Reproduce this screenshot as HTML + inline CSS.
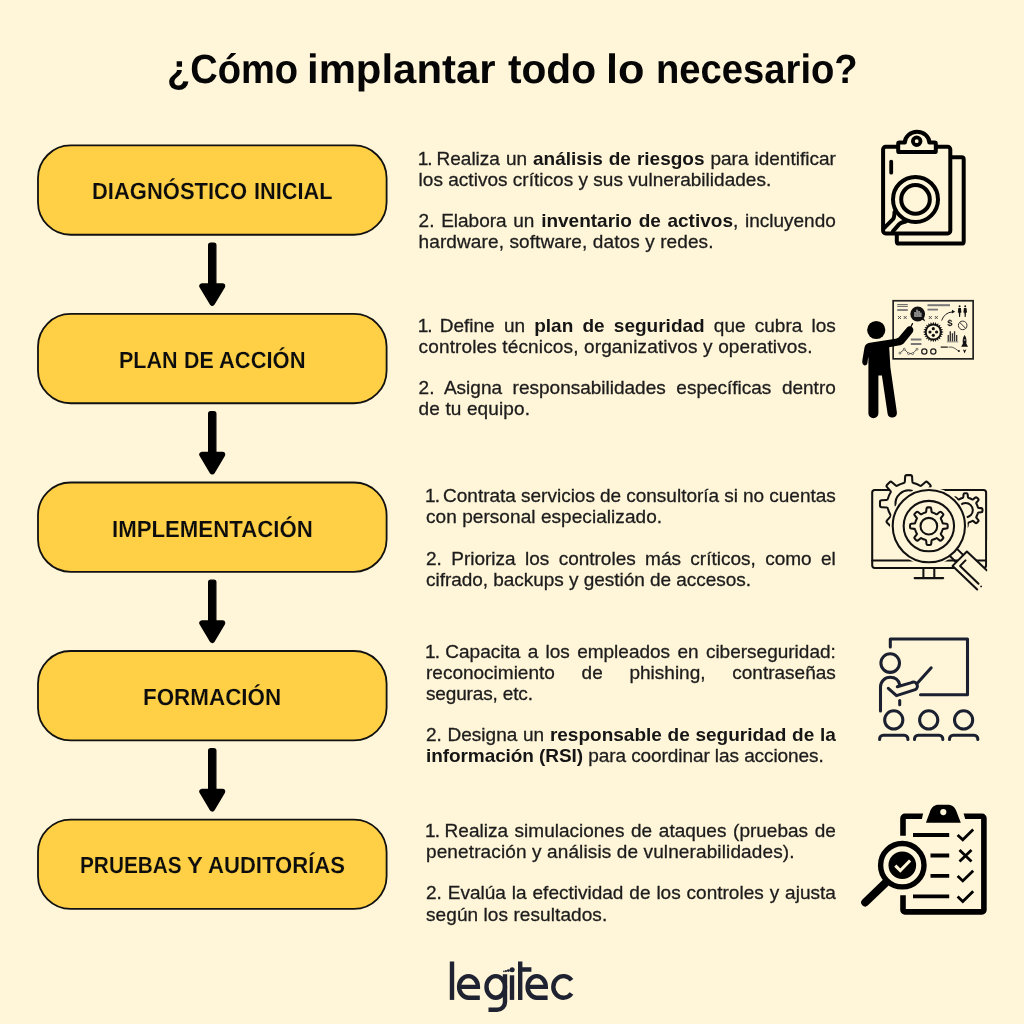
<!DOCTYPE html>
<html lang="es"><head><meta charset="utf-8"><title>¿Cómo implantar todo lo necesario?</title>
<style>
html,body{margin:0;padding:0}
body{width:1024px;height:1024px;background:#FFF5D9;position:relative;overflow:hidden;font-family:"Liberation Sans",sans-serif;color:#1c1c1c}
.tw{position:absolute;font-weight:700;font-size:41px;line-height:50px;white-space:nowrap;color:#060606;transform-origin:0 50%}
.lb{position:absolute;font-weight:700;font-size:23.4px;line-height:30px;white-space:nowrap;color:#0d0d0d;transform-origin:0 50%;-webkit-text-stroke:0.15px #FFD045}
.ln{position:absolute;white-space:nowrap;font-size:19px;line-height:20.8px;height:20.8px;color:#1c1c1c;-webkit-text-stroke:0.3px #1c1c1c}
.n1{letter-spacing:-1px;margin-left:-0.9px}.n2{letter-spacing:-1px}
.ln b{font-weight:700;color:#151515;-webkit-text-stroke:0}
.ov{position:absolute;left:0;top:0}
.pg{position:absolute;left:0;top:0;width:1024px;height:1024px;will-change:transform;transform:translateZ(0)}
</style></head>
<body>
<div class="pg">
<span class="tw" style="left:166.64px;top:44.02px;transform:scaleX(0.9284) rotate(0.03deg)">¿Cómo</span>
<span class="tw" style="left:307.09px;top:44.02px;transform:scaleX(1.0216) rotate(0.03deg)">implantar</span>
<span class="tw" style="left:508.11px;top:44.02px;transform:scaleX(0.9908) rotate(0.03deg)">todo</span>
<span class="tw" style="left:605.74px;top:44.02px;transform:scaleX(1.0547) rotate(0.03deg)">lo</span>
<span class="tw" style="left:655.50px;top:44.02px;transform:scaleX(0.9316) rotate(0.03deg)">necesario?</span>
<svg class="ov" width="1024" height="1024" viewBox="0 0 1024 1024"><g fill="#FFD045" stroke="#111" stroke-width="1.8"><rect x="38.00" y="145.45" width="348.60" height="89.30" rx="32.6"/><rect x="38.00" y="313.97" width="348.60" height="89.30" rx="32.6"/><rect x="38.00" y="482.49" width="348.60" height="89.30" rx="32.6"/><rect x="38.00" y="651.01" width="348.60" height="89.30" rx="32.6"/><rect x="38.00" y="819.53" width="348.60" height="89.30" rx="32.6"/></g></svg>
<span class="lb" style="left:91.79px;top:176.23px;transform:scaleX(0.9396) rotate(0.03deg)">DIAGNÓSTICO</span>
<span class="lb" style="left:253.81px;top:176.23px;transform:scaleX(0.9285) rotate(0.03deg)">INICIAL</span>
<span class="lb" style="left:118.82px;top:344.88px;transform:scaleX(0.9204) rotate(0.03deg)">PLAN</span>
<span class="lb" style="left:183.83px;top:344.88px;transform:scaleX(0.9156) rotate(0.03deg)">DE</span>
<span class="lb" style="left:218.96px;top:344.88px;transform:scaleX(0.9373) rotate(0.03deg)">ACCIÓN</span>
<span class="lb" style="left:111.72px;top:513.78px;transform:scaleX(0.9495) rotate(0.03deg)">IMPLEMENTACIÓN</span>
<span class="lb" style="left:143.01px;top:682.48px;transform:scaleX(0.9581) rotate(0.03deg)">FORMACIÓN</span>
<span class="lb" style="left:79.92px;top:850.38px;transform:scaleX(0.8888) rotate(0.03deg)">PRUEBAS</span>
<span class="lb" style="left:186.50px;top:850.38px;transform:scaleX(1.0111) rotate(0.03deg)">Y</span>
<span class="lb" style="left:207.66px;top:850.38px;transform:scaleX(0.9444) rotate(0.03deg)">AUDITORÍAS</span>
<div class="ln" style="left:418.6px;top:148.71px;word-spacing:0.707px"><span class="n1">1</span><span class="n2">. </span>Realiza un <b>análisis de riesgos</b> para identificar</div>
<div class="ln" style="left:418.6px;top:169.61px;letter-spacing:0.023px">los activos críticos y sus vulnerabilidades.</div>
<div class="ln" style="left:418.6px;top:211.11px;word-spacing:1.411px">2. Elabora un <b>inventario de activos</b>, incluyendo</div>
<div class="ln" style="left:418.6px;top:232.01px;letter-spacing:0.104px">hardware, software, datos y redes.</div>
<div class="ln" style="left:418.6px;top:315.61px;word-spacing:3.921px"><span class="n1">1</span><span class="n2">. </span>Define un <b>plan de seguridad</b> que cubra los</div>
<div class="ln" style="left:418.6px;top:336.61px;letter-spacing:0.137px">controles técnicos, organizativos y operativos.</div>
<div class="ln" style="left:418.6px;top:377.91px;word-spacing:5.277px">2. Asigna responsabilidades específicas dentro</div>
<div class="ln" style="left:418.6px;top:398.91px;letter-spacing:0.127px">de tu equipo.</div>
<div class="ln" style="left:426.0px;top:486.41px;word-spacing:-0.198px"><span class="n1">1</span><span class="n2">. </span>Contrata servicios de consultoría si no cuentas</div>
<div class="ln" style="left:426.0px;top:507.41px;letter-spacing:0.062px">con personal especializado.</div>
<div class="ln" style="left:426.0px;top:548.51px;word-spacing:4.087px">2. Prioriza los controles más críticos, como el</div>
<div class="ln" style="left:426.0px;top:569.51px;letter-spacing:-0.037px">cifrado, backups y gestión de accesos.</div>
<div class="ln" style="left:426.0px;top:641.61px;word-spacing:2.053px"><span class="n1">1</span><span class="n2">. </span>Capacita a los empleados en ciberseguridad:</div>
<div class="ln" style="left:426.0px;top:662.61px;word-spacing:21.470px">reconocimiento de phishing, contraseñas</div>
<div class="ln" style="left:426.0px;top:683.61px;letter-spacing:-0.148px">seguras, etc.</div>
<div class="ln" style="left:426.0px;top:724.71px;word-spacing:0.460px">2. Designa un <b>responsable de seguridad de la</b></div>
<div class="ln" style="left:426.0px;top:745.61px;letter-spacing:-0.077px"><b>información (RSI)</b> para coordinar las acciones.</div>
<div class="ln" style="left:426.0px;top:820.91px;word-spacing:1.349px"><span class="n1">1</span><span class="n2">. </span>Realiza simulaciones de ataques (pruebas de</div>
<div class="ln" style="left:426.0px;top:841.91px;letter-spacing:0.120px">penetración y análisis de vulnerabilidades).</div>
<div class="ln" style="left:426.0px;top:883.41px;word-spacing:0.661px">2. Evalúa la efectividad de los controles y ajusta</div>
<div class="ln" style="left:426.0px;top:904.51px;letter-spacing:0.082px">según los resultados.</div>
<svg class="ov" width="1024" height="1024" viewBox="0 0 1024 1024">
<g fill="#000" stroke="#000" stroke-linejoin="round" stroke-linecap="round"><rect x="208.6" y="243.10" width="7.3" height="44" rx="2.2" stroke-width="1.2"/><path d="M202 286.00 L222.5 286.00 L212.25 303.20 Z" stroke-width="5.5"/><rect x="208.6" y="411.62" width="7.3" height="44" rx="2.2" stroke-width="1.2"/><path d="M202 454.52 L222.5 454.52 L212.25 471.72 Z" stroke-width="5.5"/><rect x="208.6" y="580.14" width="7.3" height="44" rx="2.2" stroke-width="1.2"/><path d="M202 623.04 L222.5 623.04 L212.25 640.24 Z" stroke-width="5.5"/><rect x="208.6" y="748.66" width="7.3" height="44" rx="2.2" stroke-width="1.2"/><path d="M202 791.56 L222.5 791.56 L212.25 808.76 Z" stroke-width="5.5"/></g>
<g fill="none" stroke="#000" stroke-width="4" stroke-linecap="round" stroke-linejoin="round">
<rect x="883.1" y="146.8" width="67.2" height="86.6" rx="2.6"/>
<path d="M951.5 157.2 H961.5 Q963.7 157.2 963.7 159.4 V241.4 Q963.7 243.6 961.5 243.6 H899 Q896.8 243.6 896.8 241.4 V234.5"/>
<path d="M899.4 142.4 H904.9 A12.2 10.6 0 0 1 929.3 142.4 H934.6 Q935.8 142.4 935.8 143.6 V150.9 Q935.8 152.1 934.6 152.1 H899.4 Q898.2 152.1 898.2 150.9 V143.6 Q898.2 142.4 899.4 142.4 Z" fill="#FFF5D9"/>
<circle cx="916.7" cy="141.2" r="3.8" stroke-width="3.8"/>
<line x1="891.2" y1="161.6" x2="891.2" y2="172.7" stroke-width="3.8"/>
<circle cx="915.5" cy="199.4" r="22.5"/>
<circle cx="915.5" cy="199.4" r="14.3"/>
<path d="M894.5 212 Q894.4 217.8 892.8 219.4 L883.8 228.4"/>
<path d="M905.8 221.5 Q900.9 222.4 899.2 224.2 L892.9 231.3"/>
</g>
<g>
<rect x="893.15" y="300.75" width="80" height="58.1" fill="none" stroke="#222" stroke-width="1.7"/>
<g stroke="#555" fill="none" stroke-width="0.9">
<path d="M897.2 304.6H907.8M897.2 306.4H907.8" />
<path d="M897.2 310H907.8" stroke-width="1.8" stroke="#777"/>
<path d="M927.5 305.2H950" stroke-width="2" stroke="#777"/>
<path d="M927.5 309.6H938" stroke-width="1.8" stroke="#777"/>
<path d="M910.8 339.5H921.4M910.8 343.9H921.4" stroke-width="2" stroke="#777"/>
<path d="M898 316l3 3m0-3l-3 3M903.7 316l3 3m0-3l-3 3M928.8 316l3 3m0-3l-3 3M934.8 316l3 3m0-3l-3 3" stroke="#444"/>
<path d="M899.9 353.1L904.3 349.2L908.6 353.6H912.6L917 349.2" stroke="#444"/><g stroke="#444" stroke-width="0.7" fill="#FFF5D9"><circle cx="899.9" cy="353.1" r="1"/><circle cx="904.3" cy="349.2" r="1"/><circle cx="908.6" cy="353.6" r="1"/><circle cx="912.6" cy="353.6" r="1"/><circle cx="917" cy="349.2" r="1"/></g>
<circle cx="924.3" cy="351.5" r="2.6" stroke="#222" stroke-width="1.3"/>
<circle cx="933.3" cy="351.5" r="2.6" stroke="#222" stroke-width="1.3"/>
<path d="M941.6 320.6Q944.5 312.5 952.5 311.9" stroke="#222" stroke-width="1"/>
<circle cx="962.7" cy="325.4" r="4.3" stroke="#333" stroke-width="1"/>
<path d="M959.7 322.4L965.7 328.4" stroke="#333" stroke-width="1"/>
<path d="M940.7 347.1H947.8" stroke="#111" stroke-width="1.2"/>
<path d="M948.5 347.1H952Q955 348 958.2 350.8" stroke="#333" stroke-width="0.8"/>
<path d="M946.8 341.9H958.4" stroke="#666" stroke-width="0.7"/>
</g>
<g fill="#111">
<circle cx="917.7" cy="314" r="7.4"/>
<path d="M922 319.5L925.2 321.6L923.8 318Z"/>
<path d="M952 309.8L955.2 311.8L951.8 313.6Z"/>
<circle cx="958.9" cy="350.9" r="1"/>
<circle cx="933.3" cy="332" r="8.3"/>
<path d="M941.24 331.06L943.30 331.87L943.30 332.13L941.24 332.94A8.00 8.00 0 0 1 941.22 333.15L942.99 334.46L942.92 334.71L940.73 334.96A8.00 8.00 0 0 1 940.65 335.16L942.02 336.89L941.89 337.11L939.71 336.79A8.00 8.00 0 0 1 939.58 336.95L940.46 338.98L940.28 339.16L938.25 338.28A8.00 8.00 0 0 1 938.09 338.41L938.41 340.59L938.19 340.72L936.46 339.35A8.00 8.00 0 0 1 936.26 339.43L936.01 341.62L935.76 341.69L934.45 339.92A8.00 8.00 0 0 1 934.24 339.94L933.43 342.00L933.17 342.00L932.36 339.94A8.00 8.00 0 0 1 932.15 339.92L930.84 341.69L930.59 341.62L930.34 339.43A8.00 8.00 0 0 1 930.14 339.35L928.41 340.72L928.19 340.59L928.51 338.41A8.00 8.00 0 0 1 928.35 338.28L926.32 339.16L926.14 338.98L927.02 336.95A8.00 8.00 0 0 1 926.89 336.79L924.71 337.11L924.58 336.89L925.95 335.16A8.00 8.00 0 0 1 925.87 334.96L923.68 334.71L923.61 334.46L925.38 333.15A8.00 8.00 0 0 1 925.36 332.94L923.30 332.13L923.30 331.87L925.36 331.06A8.00 8.00 0 0 1 925.38 330.85L923.61 329.54L923.68 329.29L925.87 329.04A8.00 8.00 0 0 1 925.95 328.84L924.58 327.11L924.71 326.89L926.89 327.21A8.00 8.00 0 0 1 927.02 327.05L926.14 325.02L926.32 324.84L928.35 325.72A8.00 8.00 0 0 1 928.51 325.59L928.19 323.41L928.41 323.28L930.14 324.65A8.00 8.00 0 0 1 930.34 324.57L930.59 322.38L930.84 322.31L932.15 324.08A8.00 8.00 0 0 1 932.36 324.06L933.17 322.00L933.43 322.00L934.24 324.06A8.00 8.00 0 0 1 934.45 324.08L935.76 322.31L936.01 322.38L936.26 324.57A8.00 8.00 0 0 1 936.46 324.65L938.19 323.28L938.41 323.41L938.09 325.59A8.00 8.00 0 0 1 938.25 325.72L940.28 324.84L940.46 325.02L939.58 327.05A8.00 8.00 0 0 1 939.71 327.21L941.89 326.89L942.02 327.11L940.65 328.84A8.00 8.00 0 0 1 940.73 329.04L942.92 329.29L942.99 329.54L941.22 330.85A8.00 8.00 0 0 1 941.24 331.06Z"/>
<g fill="#333"><rect x="947.6" y="335" width="1.3" height="6.4"/><rect x="949.6" y="331.3" width="1.4" height="10.1"/><rect x="951.8" y="333.2" width="1.3" height="8.2"/><rect x="953.9" y="331.2" width="1.3" height="10.2"/><rect x="956" y="335" width="1.3" height="6.4"/></g>
<circle cx="959.6" cy="306.3" r="1"/><path d="M958.3 308h2.6l.5 4.5l-1 .3l-.3 4.2h-1l-.3-4.2l-1-.3z"/>
<circle cx="965.2" cy="306.3" r="1"/><path d="M963.9 308h2.6l.5 4.5l-1 .3l-.3 4.2h-1l-.3-4.2l-1-.3z"/>
<path d="M964.6 335C966.6 337.5 966.8 341 966.3 343.5L968 346.8H961.2L962.9 343.5C962.4 341 962.6 337.5 964.6 335Z"/>
<path d="M962.9 349.2L964.6 353.4L966.3 349.2L964.6 350.3Z"/>
<text x="947.2" y="326.2" font-family="Liberation Sans, sans-serif" font-weight="700" font-size="9.5">$</text>
</g>
<g fill="#FFF5D9">
<circle cx="933.3" cy="332" r="6.6"/>
</g>
<g fill="#111"><circle cx="933.3" cy="328.7" r="1.6"/><circle cx="933.3" cy="335.3" r="1.6"/><circle cx="930" cy="332" r="1.6"/><circle cx="936.6" cy="332" r="1.6"/></g>
<g fill="#aaa"><rect x="914.3" y="312" width="1.5" height="5"/><rect x="916.3" y="309.6" width="1.5" height="7.4"/><rect x="918.3" y="311" width="1.5" height="6"/><rect x="920.2" y="312.6" width="1.3" height="4.4"/></g>
<circle cx="964.6" cy="340" r="1" fill="#888"/>
<!-- person -->
<g fill="#000">
<circle cx="876.25" cy="330" r="9.1"/>
<path d="M871.5 342.5 C867 342.7 865.3 344.6 864.5 347.5 L862.3 360.5 C861.7 364.5 864 366.2 866.3 365 C867.6 364.2 867.6 362 867.8 360 L868.4 356.5 V413.2 A5 5 0 0 0 878.4 413.2 V375.5 H881.9 L887.6 413.8 A4.7 4.7 0 0 0 896.9 412.6 L890.4 367.5 L889.2 347.3 L898.5 345.6 C901.5 345 903 344.5 904.5 342.5 L912.6 332.4 C914.2 330 913.2 327.6 911.2 326.6 C909.3 325.8 907.8 326.4 906.6 328 L899 337 C898 338 897 338.4 895.5 338.7 Z"/>
<path d="M911 326.5L912.5 323.6" stroke="#000" stroke-width="1.2" stroke-linecap="round"/>
</g>
</g>
<g fill="none" stroke="#111" stroke-width="2.05" stroke-linecap="round" stroke-linejoin="round">
<rect x="872.2" y="489.9" width="113.9" height="78" rx="2.6"/>
<path d="M872.2 560.4H986"/>
<path d="M923.4 568V578.1M934.3 568V578.1M914.6 578.1H943.2"/>
<path d="M903.79 482.95Q904.77 482.75 904.83 481.75L905.12 476.70Q905.21 475.10 906.81 475.10L910.39 475.10Q911.99 475.10 912.08 476.70L912.37 481.75Q912.43 482.75 913.41 482.95A21.30 21.30 0 0 1 919.87 485.63Q920.71 486.18 921.46 485.51L925.24 482.15Q926.43 481.08 927.56 482.21L930.09 484.74Q931.22 485.87 930.15 487.06L926.79 490.84Q926.12 491.59 926.67 492.43A21.30 21.30 0 0 1 929.35 498.89Q929.55 499.87 930.55 499.93L935.60 500.22Q937.20 500.31 937.20 501.91L937.20 505.49Q937.20 507.09 935.60 507.18L930.55 507.47Q929.55 507.53 929.35 508.51A21.30 21.30 0 0 1 926.67 514.97Q926.12 515.81 926.79 516.56L930.15 520.34Q931.22 521.53 930.09 522.66L927.56 525.19Q926.43 526.32 925.24 525.25L921.46 521.89Q920.71 521.22 919.87 521.77A21.30 21.30 0 0 1 913.41 524.45Q912.43 524.65 912.37 525.65L912.08 530.70Q911.99 532.30 910.39 532.30L906.81 532.30Q905.21 532.30 905.12 530.70L904.83 525.65Q904.77 524.65 903.79 524.45A21.30 21.30 0 0 1 897.33 521.77Q896.49 521.22 895.74 521.89L891.96 525.25Q890.77 526.32 889.64 525.19L887.11 522.66Q885.98 521.53 887.05 520.34L890.41 516.56Q891.08 515.81 890.53 514.97A21.30 21.30 0 0 1 887.85 508.51Q887.65 507.53 886.65 507.47L881.60 507.18Q880.00 507.09 880.00 505.49L880.00 501.91Q880.00 500.31 881.60 500.22L886.65 499.93Q887.65 499.87 887.85 498.89A21.30 21.30 0 0 1 890.53 492.43Q891.08 491.59 890.41 490.84L887.05 487.06Q885.98 485.87 887.11 484.74L889.64 482.21Q890.77 481.08 891.96 482.15L895.74 485.51Q896.49 486.18 897.33 485.63A21.30 21.30 0 0 1 903.79 482.95Z" fill="#FFF5D9"/>
<path d="M895.6 505.5A13.3 13.3 0 0 1 912 490.8"/>
<path d="M962.46 498.00Q963.24 497.82 963.30 497.03L963.51 494.51Q963.60 493.32 964.80 493.32L966.40 493.32Q967.60 493.32 967.69 494.51L967.90 497.03Q967.96 497.82 968.74 498.00A12.60 12.60 0 0 1 972.01 499.35Q972.68 499.78 973.29 499.26L975.21 497.63Q976.12 496.85 976.97 497.70L978.10 498.83Q978.95 499.68 978.17 500.59L976.54 502.51Q976.02 503.12 976.45 503.79A12.60 12.60 0 0 1 977.80 507.06Q977.98 507.84 978.77 507.90L981.29 508.11Q982.48 508.20 982.48 509.40L982.48 511.00Q982.48 512.20 981.29 512.29L978.77 512.50Q977.98 512.56 977.80 513.34A12.60 12.60 0 0 1 976.45 516.61Q976.02 517.28 976.54 517.89L978.17 519.81Q978.95 520.72 978.10 521.57L976.97 522.70Q976.12 523.55 975.21 522.77L973.29 521.14Q972.68 520.62 972.01 521.05A12.60 12.60 0 0 1 968.74 522.40Q967.96 522.58 967.90 523.37L967.69 525.89Q967.60 527.08 966.40 527.08L964.80 527.08Q963.60 527.08 963.51 525.89L963.30 523.37Q963.24 522.58 962.46 522.40A12.60 12.60 0 0 1 959.19 521.05Q958.52 520.62 957.91 521.14L955.99 522.77Q955.08 523.55 954.23 522.70L953.10 521.57Q952.25 520.72 953.03 519.81L954.66 517.89Q955.18 517.28 954.75 516.61A12.60 12.60 0 0 1 953.40 513.34Q953.22 512.56 952.43 512.50L949.91 512.29Q948.72 512.20 948.72 511.00L948.72 509.40Q948.72 508.20 949.91 508.11L952.43 507.90Q953.22 507.84 953.40 507.06A12.60 12.60 0 0 1 954.75 503.79Q955.18 503.12 954.66 502.51L953.03 500.59Q952.25 499.68 953.10 498.83L954.23 497.70Q955.08 496.85 955.99 497.63L957.91 499.26Q958.52 499.78 959.19 499.35A12.60 12.60 0 0 1 962.46 498.00Z" fill="#FFF5D9"/>
<circle cx="965.6" cy="510.2" r="7.2"/>
<!-- handle -->
<path d="M952.6 565.9L966.9 551.5L990 573.5L981 593.5Z" fill="#FFF5D9" stroke="none"/>
<path d="M977.2 589.5L952.6 565.9L966.9 551.5L986.7 570.3"/>
<path d="M965.5 560.4L960.1 565.9L978.5 583.7"/>
<circle cx="981.1" cy="586.4" r="0.9" fill="#111" stroke="none"/>
<circle cx="928.85" cy="526.1" r="37.2" fill="#FFF5D9" stroke="#FFF5D9" stroke-width="3.4"/>
<path d="M957.3 549.1L962.8 554.6M950.2 556.3L955.6 561.8"/>
<circle cx="928.85" cy="526.1" r="36.15"/>
<circle cx="928.85" cy="526.1" r="25.2"/>
<path d="M925.32 512.55Q926.10 512.37 926.18 511.58L926.50 508.57Q926.62 507.38 927.82 507.38L929.88 507.38Q931.08 507.38 931.20 508.57L931.52 511.58Q931.60 512.37 932.38 512.55A14.10 14.10 0 0 1 936.01 514.05Q936.68 514.48 937.31 513.97L939.65 512.07Q940.58 511.32 941.43 512.17L942.88 513.62Q943.73 514.47 942.98 515.40L941.08 517.74Q940.57 518.37 941.00 519.04A14.10 14.10 0 0 1 942.50 522.67Q942.68 523.45 943.47 523.53L946.48 523.85Q947.67 523.97 947.67 525.17L947.67 527.23Q947.67 528.43 946.48 528.55L943.47 528.87Q942.68 528.95 942.50 529.73A14.10 14.10 0 0 1 941.00 533.36Q940.57 534.03 941.08 534.66L942.98 537.00Q943.73 537.93 942.88 538.78L941.43 540.23Q940.58 541.08 939.65 540.33L937.31 538.43Q936.68 537.92 936.01 538.35A14.10 14.10 0 0 1 932.38 539.85Q931.60 540.03 931.52 540.82L931.20 543.83Q931.08 545.02 929.88 545.02L927.82 545.02Q926.62 545.02 926.50 543.83L926.18 540.82Q926.10 540.03 925.32 539.85A14.10 14.10 0 0 1 921.69 538.35Q921.02 537.92 920.39 538.43L918.05 540.33Q917.12 541.08 916.27 540.23L914.82 538.78Q913.97 537.93 914.72 537.00L916.62 534.66Q917.13 534.03 916.70 533.36A14.10 14.10 0 0 1 915.20 529.73Q915.02 528.95 914.23 528.87L911.22 528.55Q910.03 528.43 910.03 527.23L910.03 525.17Q910.03 523.97 911.22 523.85L914.23 523.53Q915.02 523.45 915.20 522.67A14.10 14.10 0 0 1 916.70 519.04Q917.13 518.37 916.62 517.74L914.72 515.40Q913.97 514.47 914.82 513.62L916.27 512.17Q917.12 511.32 918.05 512.07L920.39 513.97Q921.02 514.48 921.69 514.05A14.10 14.10 0 0 1 925.32 512.55Z"/>
<circle cx="928.85" cy="526.2" r="8.35"/>
</g>
<rect x="987.3" y="540" width="12" height="60" fill="#FFF5D9"/>

<g fill="none" stroke="#1b2030" stroke-width="3.05" stroke-linecap="round" stroke-linejoin="round">
<path d="M890.3 647V638.9H967.5V694.8H920.5"/>
<circle cx="890.2" cy="663.1" r="9.3"/>
<path d="M880.5 711V687A9.7 9.7 0 0 1 890.2 677.2C895 677.2 898.6 680 899.6 684.6"/>
<path d="M897.3 686.8L911.5 682.6A3.2 3.2 0 0 1 915.2 689.6L896.5 695.6L888.3 688.3"/>
<path d="M917.3 683.2L931.2 667.8"/>
<path d="M899.7 700.6V704.8"/>
<circle cx="893.75" cy="719.9" r="9.1"/><circle cx="928.7" cy="719.9" r="9.1"/><circle cx="963.6" cy="719.9" r="9.1"/>
<path d="M879.6 739.4V738.9A3.6 3.6 0 0 1 883.2 735.3H904.3A3.6 3.6 0 0 1 907.9 738.9V739.4"/>
<path d="M914.5 739.4V738.9A3.6 3.6 0 0 1 918.1 735.3H939.2A3.6 3.6 0 0 1 942.8 738.9V739.4"/>
<path d="M949.5 739.4V738.9A3.6 3.6 0 0 1 953.1 735.3H974.2A3.6 3.6 0 0 1 977.8 738.9V739.4"/>
</g>
<g fill="none" stroke="#000" stroke-linecap="butt" stroke-linejoin="round">
<path d="M903 835.8V818.2A1.9 1.9 0 0 1 904.9 816.3H982A1.9 1.9 0 0 1 983.9 818.2V910A1.9 1.9 0 0 1 982 911.9H904.9A1.9 1.9 0 0 1 903 910V895.3" stroke-width="5.6"/>
<path d="M923.4 812L921.6 820.5H965.6L963.2 812Z" fill="#FFF5D9" stroke="none"/>
<path d="M925.9 822.8L930.4 810.5C932.3 806.2 935.3 804.7 938.8 804.7H947.7C951.2 804.7 954.2 806.2 956.1 810.5L960.8 822.8Z" fill="#000" stroke="none"/>
<circle cx="943.3" cy="812.1" r="3.1" fill="#FFF5D9" stroke="none"/>
<path d="M913 835H949.2M930.5 855.5H949.2M930.5 875.8H949.2M913 896.4H949.2" stroke-width="3.8"/>
<path d="M957.6 834.9L962.8 839.8L973.2 829.6M957.6 876L962.8 880.9L973.2 870.7M957.6 896.6L962.8 901.5L973.2 891.3" stroke-width="2.8" stroke-linejoin="miter"/>
<path d="M959.5 850L971.5 861.4M971.5 850L959.5 861.4" stroke-width="2.8"/>
<circle cx="902.3" cy="865.2" r="26.6" fill="#FFF5D9" stroke="none"/>
<path d="M885.4 883L865.2 902.4" stroke-width="8" stroke-linecap="round"/>
<circle cx="902.3" cy="865.2" r="21.7" stroke-width="5.4" fill="#FFF5D9"/>
<circle cx="902.3" cy="865.2" r="13.8" fill="#000" stroke="none"/>
<path d="M895.3 865.6L900.3 870.6L910.1 860.5" stroke="#FFF5D9" stroke-width="3.1" stroke-linejoin="miter"/>
</g>
<g fill="none" stroke="#1e2231" stroke-width="4.4" stroke-linecap="butt" stroke-linejoin="miter">
<path d="M452 961.5V999.9"/>
<path d="M479.8 997.7H468.5A9.4 10.8 0 0 1 468.5 976.1A9.4 10.8 0 0 1 477.9 986.9H459.3"/>
<ellipse cx="495.75" cy="986.9" rx="9.25" ry="10.8"/>
<path d="M505 974.3V1002A7.8 7.8 0 0 1 497.2 1009.8H488.5"/>
<path d="M512 975.3V999.9"/>
<path d="M520.2 961.5V999.9M520.2 969.5H531.4"/>
<path d="M547.6 997.7H536.7A9.1 10.8 0 0 1 536.7 976.1A9.1 10.8 0 0 1 545.8 986.9H527.8"/>
<path d="M571.54 980.25A10.2 10.8 0 1 0 571.54 993.55"/>
</g>
<g fill="#1e2231"><circle cx="512.15" cy="969.7" r="2.5"/><circle cx="508.4" cy="970.6" r="1.45"/><circle cx="505.9" cy="971.1" r="1.1"/><circle cx="503.9" cy="971.4" r="0.8"/></g>

</svg>
</div>
</body></html>
